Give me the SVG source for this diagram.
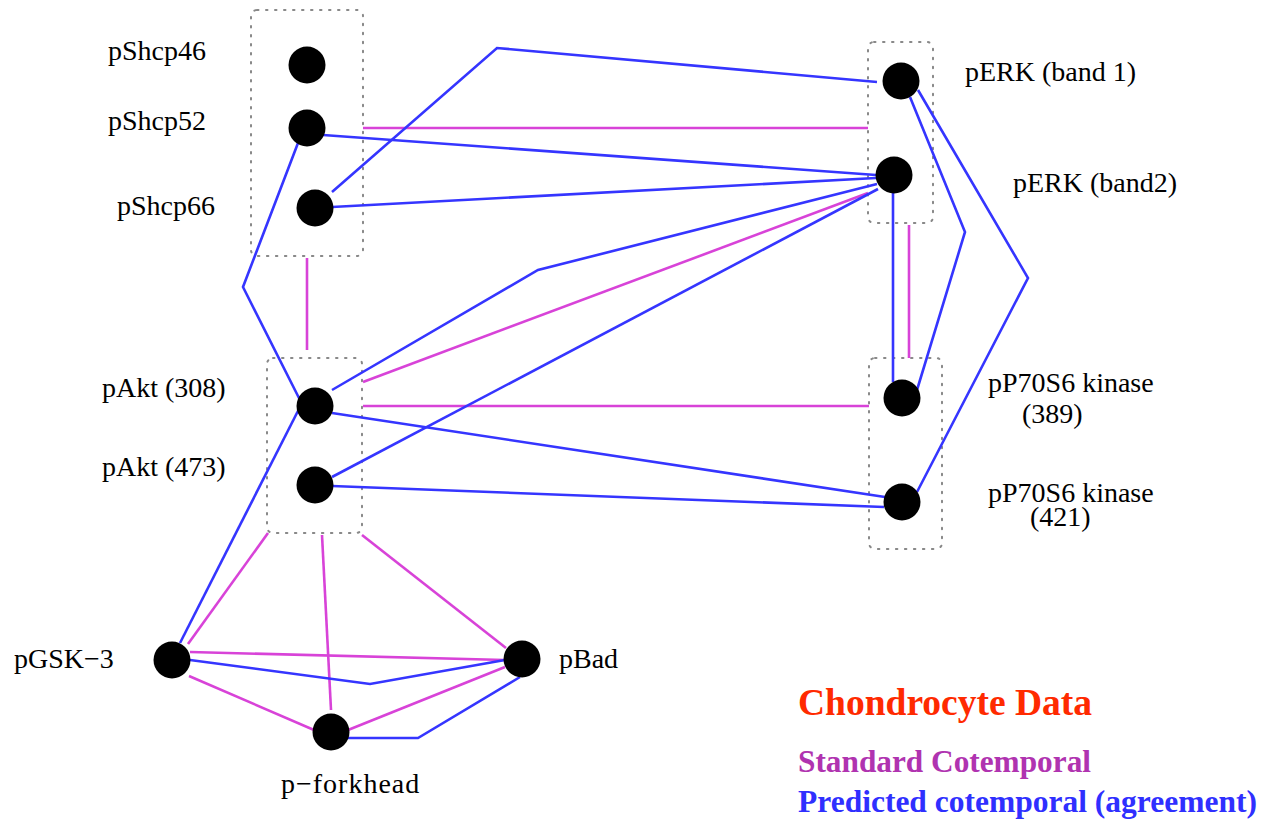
<svg xmlns="http://www.w3.org/2000/svg" width="1266" height="827" viewBox="0 0 1266 827">
<style>
.box{fill:none;stroke:#888;stroke-width:2;stroke-dasharray:1.5 7.5;stroke-linecap:round}
.m{fill:none;stroke:#d843d8;stroke-width:2.6}
.b{fill:none;stroke:#3535ff;stroke-width:2.6}
.n{fill:#000}
.lbl{font-family:"Liberation Serif","Times New Roman",serif;font-size:28px;fill:#000}
.leg{font-family:"Liberation Serif","Times New Roman",serif;font-weight:bold}
</style>
<rect width="1266" height="827" fill="#fff"/>
<g id="boxes">
<rect class="box" x="251" y="10" width="112" height="246" rx="6"/>
<rect class="box" x="868" y="42" width="65" height="181" rx="6"/>
<rect class="box" x="267" y="358" width="95" height="175" rx="6"/>
<rect class="box" x="869" y="358" width="73" height="191" rx="6"/>
</g>
<g id="connectors">
<line class="m" x1="363" y1="128" x2="868" y2="128"/>
<line class="m" x1="307" y1="258" x2="307" y2="350"/>
<line class="m" x1="909" y1="225" x2="909" y2="358"/>
<line class="m" x1="363" y1="406" x2="869" y2="406"/>
<line class="m" x1="363" y1="382" x2="868" y2="193"/>
<line class="m" x1="268" y1="533" x2="188" y2="644"/>
<line class="m" x1="322" y1="535" x2="331" y2="710"/>
<line class="m" x1="362" y1="535" x2="506" y2="648"/>
<line class="m" x1="190" y1="652" x2="505" y2="660"/>
<line class="m" x1="189" y1="676" x2="314" y2="730"/>
<line class="m" x1="348" y1="730" x2="505" y2="667"/>
<polyline class="b" points="332,192 497,48 877,82"/>
<line class="b" x1="323" y1="135" x2="876" y2="175"/>
<line class="b" x1="332" y1="207" x2="876" y2="178"/>
<polyline class="b" points="298,143 243,287 300,400"/>
<polyline class="b" points="332,390 538,270 877,184"/>
<line class="b" x1="332" y1="477" x2="878" y2="189"/>
<line class="b" x1="332" y1="413" x2="885" y2="497"/>
<line class="b" x1="332" y1="486" x2="884" y2="507"/>
<line class="b" x1="893" y1="193" x2="893" y2="382"/>
<polyline class="b" points="910,97 965,232 917,390"/>
<polyline class="b" points="918,90 1028,278 917,492"/>
<line class="b" x1="180" y1="643" x2="300" y2="407"/>
<polyline class="b" points="190,660 370,684 505,660"/>
<polyline class="b" points="348,738 418,738 520,677"/>
</g>
<g id="pShcp46"><circle class="n" cx="307" cy="65" r="18.5"/><text class="lbl" x="108" y="60">pShcp46</text></g>
<g id="pShcp52"><circle class="n" cx="307" cy="128" r="18.5"/><text class="lbl" x="108" y="130">pShcp52</text></g>
<g id="pShcp66"><circle class="n" cx="315" cy="208" r="18.5"/><text class="lbl" x="117" y="215">pShcp66</text></g>
<g id="pERK1"><circle class="n" cx="901" cy="81" r="18.5"/><text class="lbl" x="965" y="81">pERK (band 1)</text></g>
<g id="pERK2"><circle class="n" cx="894" cy="175" r="18.5"/><text class="lbl" x="1013" y="192">pERK (band2)</text></g>
<g id="pAkt308"><circle class="n" cx="315" cy="406" r="18.5"/><text class="lbl" x="102" y="397">pAkt (308)</text></g>
<g id="pAkt473"><circle class="n" cx="315" cy="485" r="18.5"/><text class="lbl" x="102" y="476">pAkt (473)</text></g>
<g id="pP70S6_389"><circle class="n" cx="902" cy="398" r="18.5"/><text class="lbl" x="988" y="392">pP70S6 kinase</text><text class="lbl" x="1022" y="423">(389)</text></g>
<g id="pP70S6_421"><circle class="n" cx="902" cy="502" r="18.5"/><text class="lbl" x="988" y="502">pP70S6 kinase</text><text class="lbl" x="1030" y="526">(421)</text></g>
<g id="pGSK3"><circle class="n" cx="172" cy="660" r="18.5"/><text class="lbl" x="14" y="668">pGSK−3</text></g>
<g id="pBad"><circle class="n" cx="522" cy="659" r="18.5"/><text class="lbl" x="559" y="668">pBad</text></g>
<g id="pforkhead"><circle class="n" cx="331" cy="732" r="18.5"/><text class="lbl" x="281" y="793" letter-spacing="1">p−forkhead</text></g>
<g id="legend">
<text class="leg" x="798" y="715" font-size="37.5" fill="#ff2a00">Chondrocyte Data</text>
<text class="leg" x="798" y="772" font-size="31.3" fill="#b033b0">Standard Cotemporal</text>
<text class="leg" x="798" y="812" font-size="31.5" fill="#2f2fff">Predicted cotemporal (agreement)</text>
</g>
</svg>
